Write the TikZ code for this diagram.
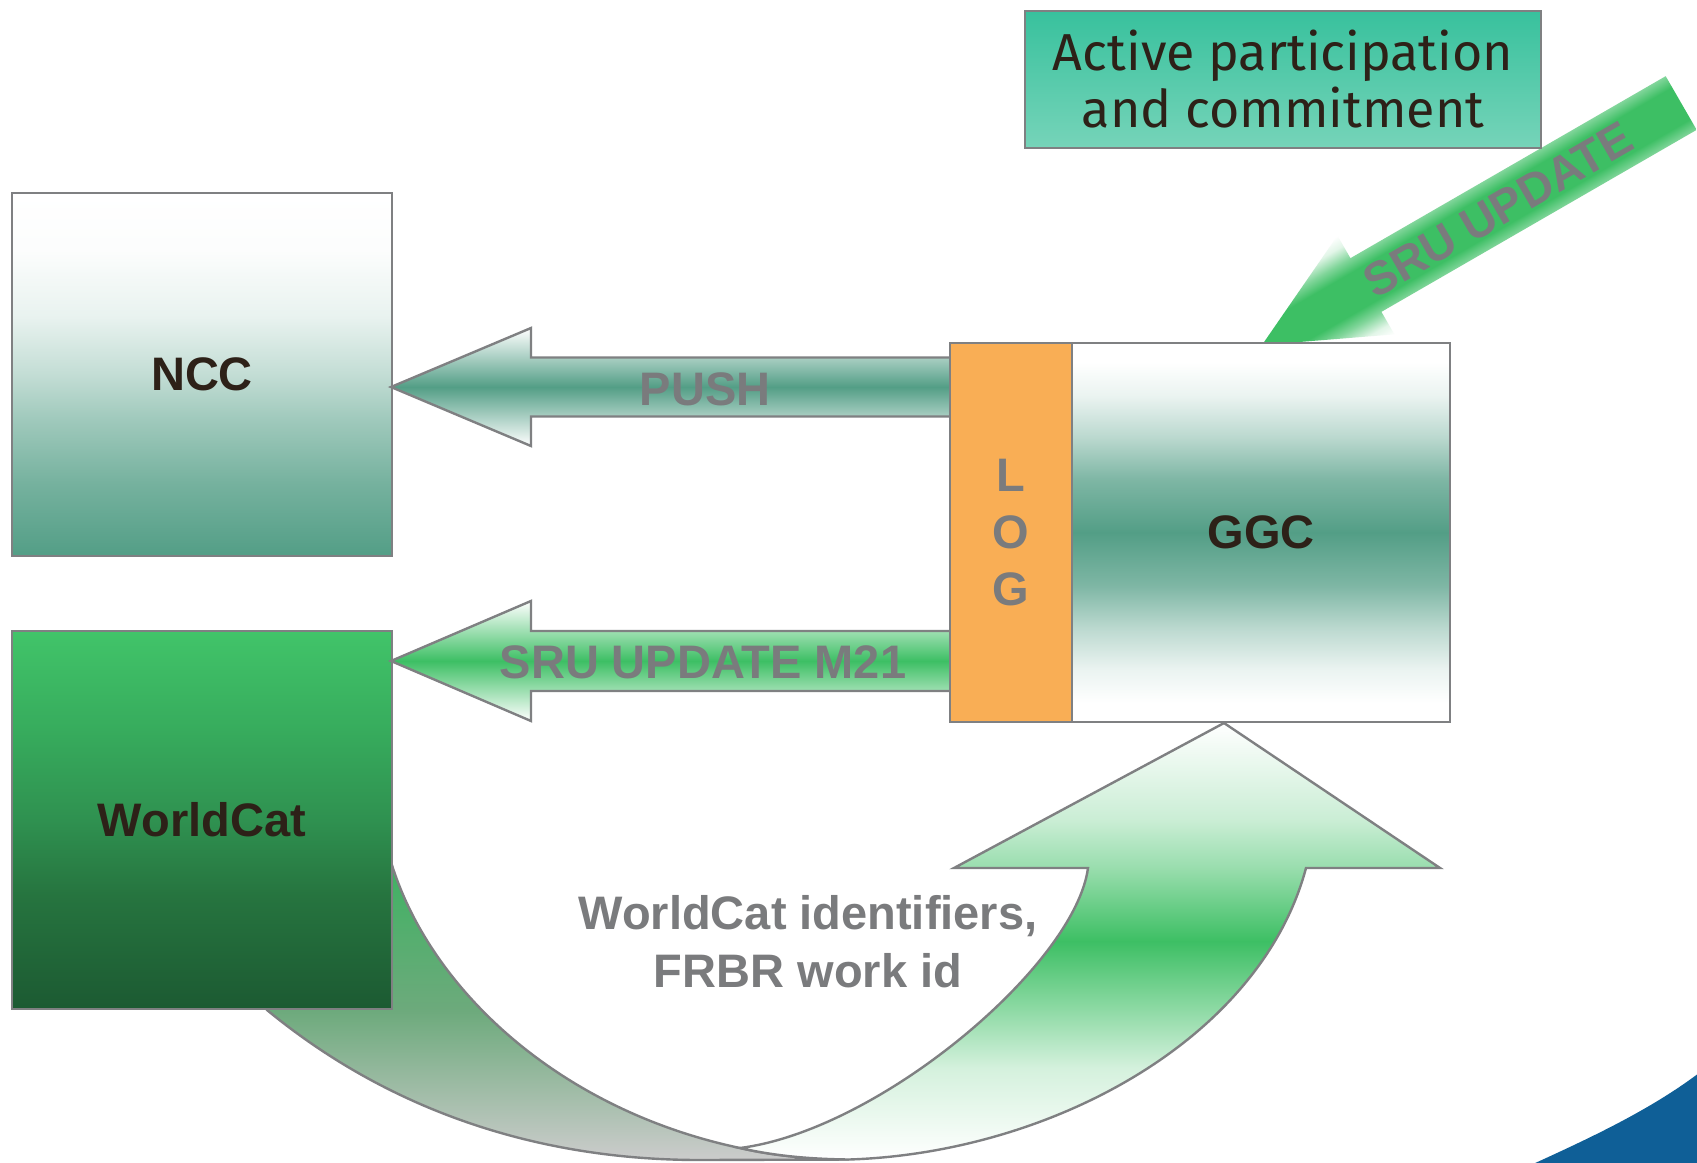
\documentclass[tikz,border=0pt]{standalone}
\usepackage{fontspec}
\setmainfont{Liberation Sans}
\newfontfamily\actfont{Fira Sans}
\definecolor{cTeal}{HTML}{539E86}
\definecolor{cGreen}{HTML}{3DBF64}
\definecolor{cLine}{HTML}{7F8082}
\definecolor{cTextGray}{HTML}{7A7B7D}
\definecolor{cDark}{HTML}{2D2118}
\definecolor{cOrange}{HTML}{F9AE55}
\definecolor{cBlue}{HTML}{0F5F97}
\definecolor{cActTop}{HTML}{38C19D}
\definecolor{cActBot}{HTML}{76D4B9}
\definecolor{cWcA}{HTML}{1C5A32}
\definecolor{cWcB}{HTML}{26743F}
\definecolor{cWcC}{HTML}{2F9150}
\definecolor{cWcD}{HTML}{37AC5D}
\definecolor{cWcE}{HTML}{41C469}
\definecolor{cLbBot}{HTML}{CCCCCC}
\definecolor{cLbMid}{HTML}{6DAA7C}
\definecolor{cLbTop}{HTML}{3EB262}
\colorlet{Ta}{cTeal!80!white}
\colorlet{Tb}{cTeal!55!white}
\colorlet{Tc}{cTeal!35!white}
\colorlet{Td}{cTeal!13!white}
\colorlet{Te}{cTeal!2!white}
\colorlet{Tf}{cTeal!12!white}
\colorlet{Tg}{cTeal!40!white}
\colorlet{Th}{cTeal!75!white}
\colorlet{Ga}{cGreen!22!white}
\colorlet{Gb}{cGreen!52!white}
\colorlet{Gc}{cGreen!27!white}
\colorlet{Gd}{cGreen!65!white}
\colorlet{Ge}{cGreen!15!white}
\pgfdeclareverticalshading{nccshade}{100bp}{color(0bp)=(cTeal); color(25bp)=(cTeal); color(35bp)=(Ta); color(44bp)=(Tb); color(50bp)=(Tc); color(58bp)=(Td); color(67bp)=(Te); color(75bp)=(white); color(100bp)=(white)}
\pgfdeclareverticalshading{ggcshade}{100bp}{color(0bp)=(white); color(27.5bp)=(white); color(32bp)=(Tf); color(37.5bp)=(Tg); color(43bp)=(Th); color(50bp)=(cTeal); color(57bp)=(Th); color(62.5bp)=(Tg); color(68bp)=(Tf); color(72.5bp)=(white); color(100bp)=(white)}
\pgfdeclareverticalshading{wcshade}{100bp}{color(0bp)=(cWcA); color(25bp)=(cWcA); color(40bp)=(cWcB); color(50bp)=(cWcC); color(62bp)=(cWcD); color(75bp)=(cWcE); color(100bp)=(cWcE)}
\pgfdeclareverticalshading{rbshade}{100bp}{color(0bp)=(white); color(25bp)=(white); color(35.5bp)=(Ga); color(41bp)=(Gb); color(50bp)=(cGreen); color(58.5bp)=(Gb); color(64bp)=(Gc); color(75bp)=(white); color(100bp)=(white)}
\pgfdeclareverticalshading{lbshade}{100bp}{color(0bp)=(cLbBot); color(25bp)=(cLbBot); color(50bp)=(cLbMid); color(75bp)=(cLbTop); color(100bp)=(cLbTop)}
\pgfdeclareverticalshading{diagshade}{100bp}{color(0bp)=(white); color(25bp)=(white); color(30bp)=(Ge); color(36.4bp)=(Gd); color(42bp)=(cGreen); color(58bp)=(cGreen); color(63.6bp)=(Gd); color(70bp)=(Ge); color(75bp)=(white); color(100bp)=(white)}
\tikzset{
  outl/.style={draw=cLine, line width=2.4pt, line join=miter},
  box/.style={draw=cLine, line width=2.4pt, inner sep=0pt, text=cDark,
    font=\fontsize{47}{57}\selectfont\bfseries},
  lbl/.style={text=cTextGray, inner sep=0pt, anchor=base,
    font=\fontsize{47}{58}\selectfont\bfseries},
}
\begin{document}
\begin{tikzpicture}[x=1pt,y=-1pt]
\useasboundingbox (0,0) rectangle (1697,1162);
\fill[white] (0,0) rectangle (1697,1162);
% blue corner
\fill[cBlue] (1533,1164) .. controls (1590,1138) and (1650,1110) .. (1699,1073) -- (1699,1164) -- cycle;
% bottom U-turn arrow
\path[outl, shade, shading=lbshade] (391,862) -- (230,960) -- (267,1010) .. controls (340,1070) and (480,1160) .. (700,1160) -- (849,1159.5) .. controls (810,1159) and (775,1156) .. (740,1148) .. controls (560,1110) and (430,990) .. (391,862) -- cycle;
\path[outl, shade, shading=rbshade] (740,1148) .. controls (880,1130) and (1075,965) .. (1088,868) -- (954,868) -- (1224,723) -- (1440,868) -- (1306,868) .. controls (1260,1040) and (1050,1153) .. (849,1159.5) .. controls (810,1159) and (775,1156) .. (740,1148) -- cycle;
% left boxes
\node[box, shade, shading=wcshade, minimum width=380pt, minimum height=378pt] (worldcat) at (202,820) {WorldCat};
\node[box, shade, shading=nccshade, minimum width=380pt, minimum height=363pt] (ncc) at (202,374.5) {NCC};
% horizontal block arrows
\path[outl, top color=white, bottom color=white, middle color=cTeal] (391,387) -- (531,328) -- (531,357.5) -- (962,357.5) -- (962,416.5) -- (531,416.5) -- (531,446) -- cycle;
\path[outl, top color=white, bottom color=white, middle color=cGreen] (391,661) -- (531,601) -- (531,631) -- (962,631) -- (962,691) -- (531,691) -- (531,721) -- cycle;
% diagonal arrow
\begin{scope}[transform canvas={shift={(1262,345)},rotate=30}]
\path[shade, shading=diagshade] (0,0) -- (120,-57) -- (120,-31) -- (484,-31) -- (484,31) -- (120,31) -- (120,57) -- cycle;
\node[lbl] (sru) at (272,17) {SRU UPDATE};
\end{scope}
% LOG and GGC
\node[box, fill=cOrange, text=cTextGray, align=center, minimum width=122pt, minimum height=379pt] (log) at (1011,532.5) {L\\O\\G};
\node[box, shade, shading=ggcshade, minimum width=378pt, minimum height=379pt] (ggc) at (1261,532.5) {GGC};
% top box
\node[box, top color=cActTop, bottom color=cActBot, align=center, font=\actfont\fontsize{52}{57}\selectfont, minimum width=516pt, minimum height=137pt] (active) at (1283,79.5) {Active participation\\and commitment};
% labels
\node[lbl] (push) at (705,405) {PUSH};
\node[lbl] (m21) at (703,678) {SRU UPDATE M21};
\node[lbl, align=center, anchor=center] (ids) at (808,942) {WorldCat identifiers,\\FRBR work id};
\end{tikzpicture}
\end{document}
